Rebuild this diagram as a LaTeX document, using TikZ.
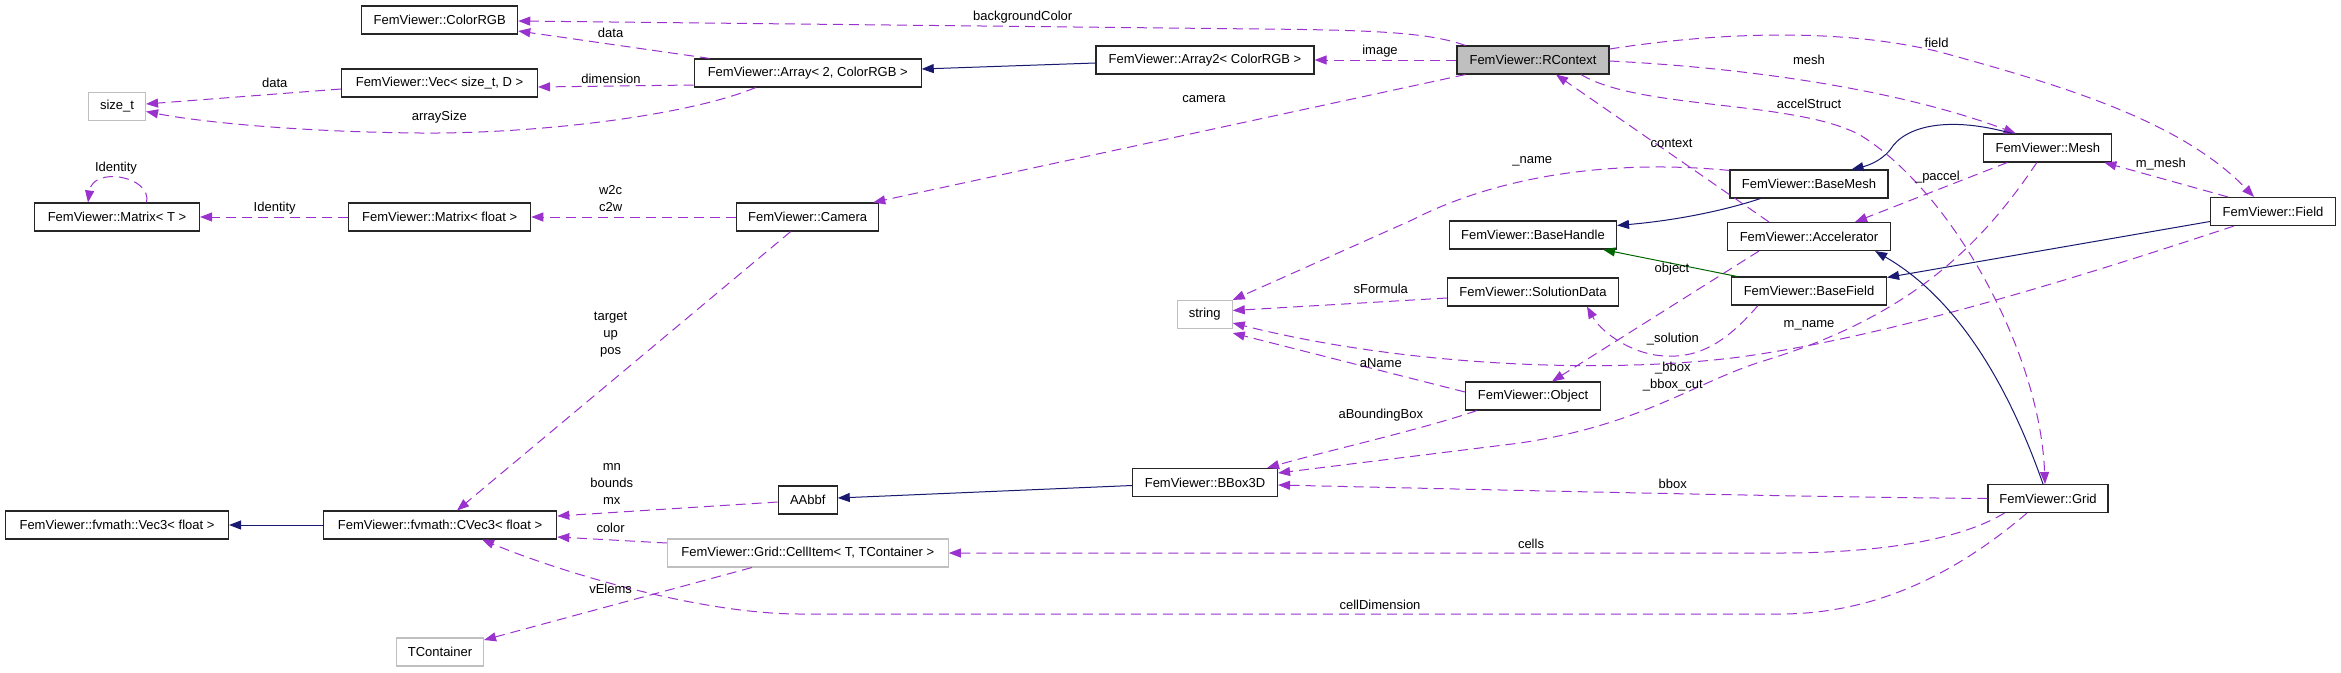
\documentclass[tikz,border=0pt]{standalone}
\usepackage{fontspec}
\setmainfont{Liberation Sans}
\usetikzlibrary{arrows.meta,calc}
\definecolor{edgep}{HTML}{9A32CD}
\definecolor{navyc}{HTML}{191970}
\definecolor{dgreen}{HTML}{006400}
\definecolor{grayb}{HTML}{BFBFBF}
\begin{document}
\begin{tikzpicture}[x=1pt,y=-1pt,font=\fontsize{13}{17}\selectfont,
  cls/.style={draw=black!85, line width=1.1pt, minimum height=28pt, inner sep=0pt, fill=white},
  ext/.style={cls, draw=grayb},
  uses/.style={draw=edgep, line width=1pt, dash pattern=on 10pt off 6pt, -{Triangle[length=12pt,width=9pt]}},
  inh/.style={draw=navyc, line width=1pt, -{Triangle[length=12pt,width=9pt]}},
  inhg/.style={draw=dgreen, line width=1pt, -{Triangle[length=12pt,width=9pt]}},
  lbl/.style={inner sep=0pt, align=center}]
\fill[white] (0,0) rectangle (2341,672);
\useasboundingbox (0,0) rectangle (2341,672);

% nodes
\node[cls, minimum width=156pt] (crgb) at (439.7,20) {FemViewer::ColorRGB};
\node[cls, minimum width=196pt] (vec) at (439.5,83) {FemViewer::Vec< size\_t, D >};
\node[ext, minimum width=57pt] (sizet) at (117,106.5) {size\_t};
\node[cls, minimum width=165pt] (matT) at (117,217) {FemViewer::Matrix< T >};
\node[cls, minimum width=182pt] (matF) at (439.7,217) {FemViewer::Matrix< float >};
\node[cls, minimum width=227pt] (arr) at (807.7,73) {FemViewer::Array< 2, ColorRGB >};
\node[cls, minimum width=218pt] (arr2) at (1205,60) {FemViewer::Array2< ColorRGB >};
\node[cls, fill=grayb, minimum width=152pt] (rc) at (1533,60) {FemViewer::RContext};
\node[cls, minimum width=142pt] (cam) at (807.7,217) {FemViewer::Camera};
\node[cls, minimum width=128pt] (mesh) at (2047.8,148) {FemViewer::Mesh};
\node[cls, minimum width=158pt] (bmesh) at (1809,184) {FemViewer::BaseMesh};
\node[cls, minimum width=167pt] (bh) at (1533,235) {FemViewer::BaseHandle};
\node[cls, minimum width=163pt] (acc) at (1809,236.5) {FemViewer::Accelerator};
\node[cls, minimum width=155pt] (bf) at (1809,291) {FemViewer::BaseField};
\node[cls, minimum width=125pt] (field) at (2273,211.5) {FemViewer::Field};
\node[cls, minimum width=171pt] (sol) at (1533,292) {FemViewer::SolutionData};
\node[ext, minimum width=55pt] (str) at (1204.7,314.5) {string};
\node[cls, minimum width=135pt] (obj) at (1533,396) {FemViewer::Object};
\node[cls, minimum width=145pt] (bbox) at (1205,482.5) {FemViewer::BBox3D};
\node[cls, minimum width=59pt] (aabb) at (807.7,500) {AAbbf};
\node[cls, minimum width=120pt] (grid) at (2048,498.5) {FemViewer::Grid};
\node[ext, minimum width=281pt] (cell) at (807.8,553) {FemViewer::Grid::CellItem< T, TContainer >};
\node[ext, minimum width=87pt] (tcont) at (440,652) {TContainer};
\node[cls, minimum width=233.5pt] (cvec) at (440,525) {FemViewer::fvmath::CVec3< float >};
\node[cls, minimum width=223pt] (vec3) at (117,525) {FemViewer::fvmath::Vec3< float >};

% usage edges
\draw[uses] ($(rc.north west)+(9,0)$) .. controls (1430,33) and (1380,30) .. (1260,29) -- ($(crgb.east)+(0,1)$);
\draw[uses] ($(arr.north west)+(16,0)$) -- ($(crgb.east)+(0,11)$);
\draw[uses] ($(arr.west)+(0,12)$) -- ($(vec.east)+(0,4)$);
\draw[uses] ($(arr.south west)+(62,0)$) .. controls (690,115) and (540,134) .. (420,133) .. controls (300,132) and (200,122) .. ($(sizet.east)+(0,5)$);
\draw[uses] ($(vec.west)+(0,6)$) -- ($(sizet.east)+(0,-2.5)$);
\draw[uses] (rc.west) -- (arr2.east);
\draw[uses] ($(rc.south west)+(9,0)$) -- ($(cam.north east)+(-6,0)$);
\draw[uses] (cam.west) -- (matF.east);
\draw[uses] (matF.west) -- (matT.east);
\draw[uses] ($(matT.north)+(29.6,0)$) .. controls (152,176) and (93,166) .. ($(matT.north)+(-29,0)$);
\draw[uses] ($(cam.south)+(-17,0)$) -- ($(cvec.north)+(17,0)$);
\draw[uses] ($(aabb.west)+(0,2)$) -- ($(cvec.east)+(0,-9)$);
\draw[uses] ($(cell.west)+(0,-10)$) -- ($(cvec.east)+(0,12)$);
\draw[uses] ($(cell.south)+(-56,0)$) -- ($(tcont.east)+(0,-12)$);
\draw[uses] ($(grid.south)+(-21,0)$) .. controls (1960,570) and (1880,614) .. (1780,614) -- (800,614) .. controls (700,614) and (560,572) .. ($(cvec.south)+(42,0)$);
\draw[uses] ($(grid.south west)+(17,0)$) .. controls (1960,540) and (1880,553) .. (1780,553) -- (cell.east);
\draw[uses] (grid.west) .. controls (1800,497) and (1500,490) .. ($(bbox.east)+(0,2.5)$);
\draw[uses] ($(obj.south west)+(12,0)$) .. controls (1420,430) and (1330,450) .. ($(bbox.north east)+(-11,0)$);
\draw[uses] ($(mesh.south)+(-11,0)$) .. controls (1975,255) and (1900,320) .. (1760,362) .. controls (1690,385) and (1640,425) .. (1520,443) -- ($(bbox.east)+(0,-9.5)$);
\draw[uses] ($(field.south west)+(24,0)$) .. controls (2100,270) and (1900,335) .. (1740,357) .. controls (1600,375) and (1400,365) .. ($(str.east)+(0,8.5)$);
\draw[uses] ($(bf.south west)+(27,0)$) .. controls (1720,350) and (1690,360) .. (1655,355) .. controls (1625,350) and (1600,330) .. ($(sol.south)+(54,0)$);
\draw[uses] ($(acc.south west)+(32,0)$) -- ($(obj.north)+(19,0)$);
\draw[uses] ($(mesh.south west)+(24,0)$) -- ($(acc.north east)+(-36,0)$);
\draw[uses] ($(acc.north west)+(42,0)$) -- ($(rc.south)+(23,0)$);
\draw[uses] ($(bmesh.north west)+(0,1)$) .. controls (1600,158) and (1490,180) .. (1412,220) -- (str.north east);
\draw[uses] ($(sol.west)+(0,6)$) -- ($(str.east)+(0,-4)$);
\draw[uses] ($(obj.west)+(0,-4)$) -- ($(str.south east)+(0,4)$);
\draw[uses] ($(rc.east)+(0,1)$) .. controls (1750,68) and (1900,90) .. ($(mesh.north)+(-32,0)$);
\draw[uses] ($(rc.east)+(0,-11)$) .. controls (1700,35) and (1830,25) .. (1940,52) .. controls (2060,85) and (2180,120) .. ($(field.north)+(-19,0)$);
\draw[uses] ($(rc.south)+(48,0)$) .. controls (1640,110) and (1795,100) .. (1860,135) .. controls (1950,190) and (2040,350) .. ($(grid.north)+(-3,0)$);
\draw[uses] ($(field.north west)+(18,0)$) -- ($(mesh.south east)+(-8,0)$);

% inheritance edges
\draw[inh] ($(arr2.west)+(0,3)$) -- ($(arr.east)+(0,-4)$);
\draw[inh] ($(bbox.west)+(0,3)$) -- ($(aabb.east)+(0,-2)$);
\draw[inh] (cvec.west) -- (vec3.east);
\draw[inh] ($(mesh.north)+(-36,0)$) .. controls (1950,116) and (1905,125) .. (1890,150) .. controls (1880,162) and (1866,166) .. ($(bmesh.north east)+(-37,0)$);
\draw[inh] ($(bmesh.south west)+(31,0)$) .. controls (1720,212) and (1670,221) .. ($(bh.north east)+(0,5)$);
\draw[inhg] ($(bf.north west)+(6,0)$) -- ($(bh.south east)+(-14,0)$);
\draw[inh] ($(field.west)+(0,10)$) -- ($(bf.north east)+(0,1)$);
\draw[inh] ($(grid.north)+(-5,0)$) .. controls (2010,390) and (1960,300) .. ($(acc.south east)+(-16,0)$);

% labels
\node[lbl] (l1) at (1022.7,17) {backgroundColor};
\node[lbl] (l2) at (610.6,33) {data};
\node[lbl] (l3) at (611,79) {dimension};
\node[lbl] (l4) at (439.3,117) {arraySize};
\node[lbl] (l5) at (274.7,83) {data};
\node[lbl] (l6) at (1380,51) {image};
\node[lbl] (l7) at (1204,99) {camera};
\node[lbl] (l8) at (274.7,208) {Identity};
\node[lbl] (l9) at (116,168) {Identity};
\node[lbl] (l10) at (610.6,199) {w2c\\c2w};
\node[lbl] (l11) at (610.6,335) {target\\up\\pos};
\node[lbl] (l12) at (611.8,484) {mn\\bounds\\mx};
\node[lbl] (l13) at (610.6,528) {color};
\node[lbl] (l14) at (610.6,589) {vElems};
\node[lbl] (l15) at (1380,605) {cellDimension};
\node[lbl] (l16) at (1531,544) {cells};
\node[lbl] (l17) at (1672.8,484) {bbox};
\node[lbl] (l18) at (1380.8,415) {aBoundingBox};
\node[lbl] (l19) at (1380.8,363) {aName};
\node[lbl] (l20) at (1380.8,289) {sFormula};
\node[lbl] (l21) at (1532.3,161) {\_name};
\node[lbl] (l22) at (1671.6,143) {context};
\node[lbl] (l23) at (1809,325) {m\_name};
\node[lbl] (l24) at (1809,60) {mesh};
\node[lbl] (l25) at (1936.6,43) {field};
\node[lbl] (l26) at (1809,104) {accelStruct};
\node[lbl] (l27) at (1937.4,177) {\_paccel};
\node[lbl] (l28) at (2160.8,164) {m\_mesh};
\node[lbl] (l29) at (1672,269) {object};
\node[lbl] (l30) at (1672.8,339) {\_solution};
\node[lbl] (l31) at (1672.8,376.5) {\_bbox\\\_bbox\_cut};
\end{tikzpicture}
\end{document}
